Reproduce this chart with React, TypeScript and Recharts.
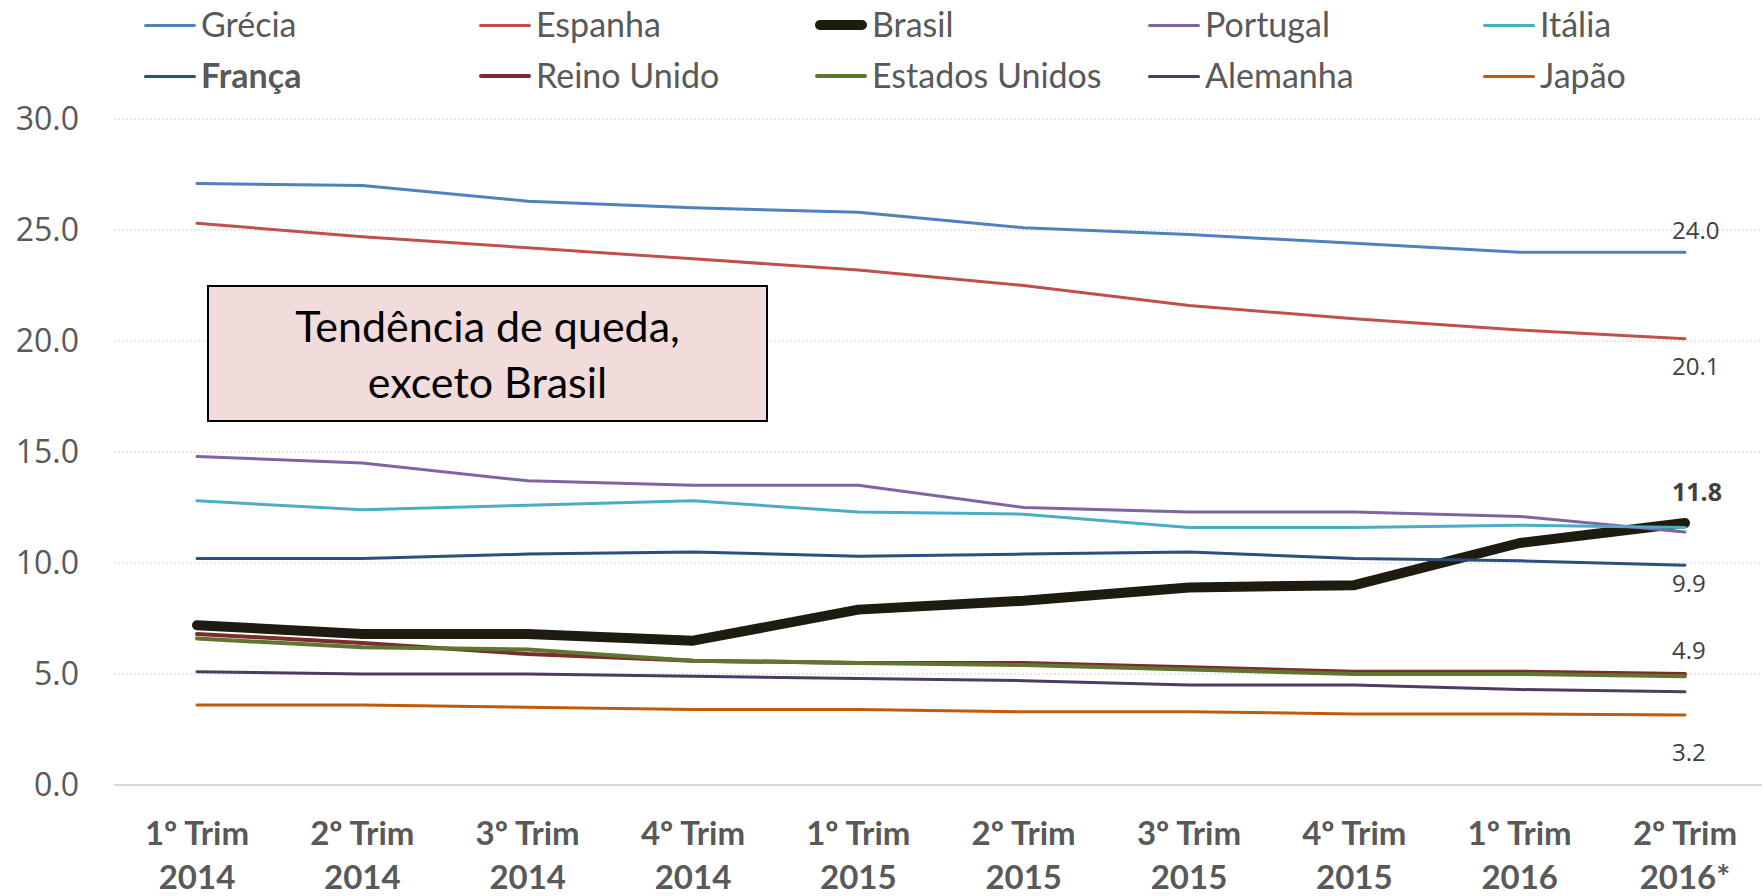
import React from 'react';
import { LineChart, Line, XAxis, YAxis, CartesianGrid, Legend, LabelList } from 'recharts';

const quarters = ['1º Trim', '2º Trim', '3º Trim', '4º Trim', '1º Trim', '2º Trim', '3º Trim', '4º Trim', '1º Trim', '2º Trim'];
const years = ['2014', '2014', '2014', '2014', '2015', '2015', '2015', '2015', '2016', '2016*'];

const grecia = [27.1, 27.0, 26.3, 26.0, 25.8, 25.1, 24.8, 24.4, 24.0, 24.0];
const espanha = [25.3, 24.7, 24.2, 23.7, 23.2, 22.5, 21.6, 21.0, 20.5, 20.1];
const brasil = [7.2, 6.8, 6.8, 6.5, 7.9, 8.3, 8.9, 9.0, 10.9, 11.8];
const portugal = [14.8, 14.5, 13.7, 13.5, 13.5, 12.5, 12.3, 12.3, 12.1, 11.4];
const italia = [12.8, 12.4, 12.6, 12.8, 12.3, 12.2, 11.6, 11.6, 11.7, 11.6];
const franca = [10.2, 10.2, 10.4, 10.5, 10.3, 10.4, 10.5, 10.2, 10.1, 9.9];
const reinoUnido = [6.8, 6.4, 5.9, 5.6, 5.5, 5.5, 5.3, 5.1, 5.1, 5.0];
const estadosUnidos = [6.6, 6.2, 6.1, 5.6, 5.5, 5.4, 5.2, 5.0, 5.0, 4.9];
const alemanha = [5.1, 5.0, 5.0, 4.9, 4.8, 4.7, 4.5, 4.5, 4.3, 4.2];
const japao = [3.6, 3.6, 3.5, 3.4, 3.4, 3.3, 3.3, 3.2, 3.2, 3.15];

const yTicks = [0, 5, 10, 15, 20, 25, 30];

const endLabels: Record<string, string> = {
  grecia: '24.0',
  espanha: '20.1',
  brasil: '11.8',
  franca: '9.9',
  estadosUnidos: '4.9',
  japao: '3.2',
};

type S = { key: string; name: string; values: number[]; color: string; width: number; bold?: boolean; labelDy?: number };

const series: S[] = [
  { key: 'grecia', name: 'Grécia', values: grecia, color: '#4f81bd', width: 3, labelDy: -22 },
  { key: 'espanha', name: 'Espanha', values: espanha, color: '#c0504d', width: 3, labelDy: 28 },
  { key: 'brasil', name: 'Brasil', values: brasil, color: '#1e1c11', width: 10, labelDy: -31 },
  { key: 'portugal', name: 'Portugal', values: portugal, color: '#8064a2', width: 3 },
  { key: 'italia', name: 'Itália', values: italia, color: '#4bacc6', width: 3 },
  { key: 'franca', name: 'França', values: franca, color: '#2c4f7c', width: 3, bold: true, labelDy: 18 },
  { key: 'reinoUnido', name: 'Reino Unido', values: reinoUnido, color: '#7b2c2b', width: 4 },
  { key: 'estadosUnidos', name: 'Estados Unidos', values: estadosUnidos, color: '#5f7530', width: 4, labelDy: -26 },
  { key: 'alemanha', name: 'Alemanha', values: alemanha, color: '#4d3b62', width: 3 },
  { key: 'japao', name: 'Japão', values: japao, color: '#bf5b0c', width: 3, labelDy: 37 },
];

const data = quarters.map((q, i) => {
  const row: Record<string, string | number> = { periodo: `${q}|${years[i]}` };
  series.forEach((s) => {
    row[s.key] = s.values[i];
  });
  return row;
});

const legendCols = [144, 479, 815, 1148, 1483];
const legendRows = [25, 76];

const LegendContent = () => (
  <div style={{ position: 'relative', width: 1762, height: 100 }}>
    {series.map((s, i) => {
      const col = i % 5;
      const row = Math.floor(i / 5);
      const x = legendCols[col];
      const y = legendRows[row];
      const lw = s.key === 'brasil' ? 10 : s.width;
      return (
        <div key={s.key}>
          <div
            style={{
              position: 'absolute',
              left: x,
              top: y - lw / 2,
              width: 52,
              height: lw,
              background: s.color,
              borderRadius: lw / 2,
            }}
          />
          <div
            style={{
              position: 'absolute',
              left: x + 57,
              top: y - 22,
              height: 42,
              lineHeight: '42px',
              fontFamily: 'Lato, sans-serif',
              fontSize: 34,
              fontWeight: s.bold ? 700 : 400,
              color: '#595959',
              whiteSpace: 'nowrap',
            }}
          >
            {s.name}
          </div>
        </div>
      );
    })}
  </div>
);

const XTick = (props: any) => {
  const { x, y, payload } = props;
  const [q, yr] = String(payload.value).split('|');
  const style = { fontFamily: 'Lato, sans-serif', fontSize: 33, fontWeight: 700, fill: '#595959' } as const;
  return (
    <g>
      <text x={x} y={y + 48} dy="0.36em" textAnchor="middle" {...style}>
        {q}
      </text>
      <text x={x} y={y + 92} dy="0.36em" textAnchor="middle" {...style}>
        {yr}
      </text>
    </g>
  );
};

const makeEndLabel = (s: S) => (props: any) => {
  const { x, y, index } = props;
  if (index !== quarters.length - 1) return null;
  const text = endLabels[s.key];
  if (!text) return null;
  const isBr = s.key === 'brasil';
  return (
    <text
      x={x - 13}
      y={y + (s.labelDy || 0)}
      dy="0.36em"
      textAnchor="start"
      fontFamily="'Open Sans', sans-serif"
      fontSize={isBr ? 25 : 24}
      fontWeight={isBr ? 700 : 400}
      fill="#404040"
    >
      {text}
    </text>
  );
};

export default function App() {
  return (
    <div style={{ position: 'absolute', left: 0, top: 0, width: 1762, height: 896, background: '#fff' }}>
      <LineChart width={1762} height={896} data={data} margin={{ top: 119, right: 0, bottom: 0, left: 0 }}>
        <CartesianGrid horizontal vertical={false} stroke="#cfcfcf" strokeDasharray="2 2" />
        <XAxis
          dataKey="periodo"
          height={111}
          interval={0}
          padding={{ left: 83, right: 77 }}
          tickLine={false}
          tickSize={0}
          tickMargin={0}
          axisLine={{ stroke: '#d9d9d9', strokeWidth: 2 }}
          tick={<XTick />}
        />
        <YAxis
          domain={[0, 30]}
          ticks={yTicks}
          width={114}
          axisLine={false}
          tickLine={false}
          tickSize={0}
          tickMargin={35}
          tickFormatter={(v: number) => v.toFixed(1)}
          tick={{ fill: '#595959', fontSize: 32, fontFamily: "'Open Sans', sans-serif" }}
        />
        <Legend
          layout="vertical"
          align="center"
          verticalAlign="middle"
          content={<LegendContent />}
          wrapperStyle={{ top: 0, left: 0, width: 1762, height: 100 }}
        />
        {series.map((s) => (
          <Line
            key={s.key}
            type="linear"
            dataKey={s.key}
            name={s.name}
            stroke={s.color}
            strokeWidth={s.width}
            strokeLinecap="round"
            strokeLinejoin="round"
            dot={false}
            activeDot={false}
            isAnimationActive={false}
          >
            {endLabels[s.key] ? <LabelList dataKey={s.key} content={makeEndLabel(s)} /> : null}
          </Line>
        ))}
      </LineChart>
      <div
        style={{
          position: 'absolute',
          left: 207,
          top: 285,
          width: 561,
          height: 137,
          boxSizing: 'border-box',
          background: '#f2dcdb',
          border: '2px solid #000',
          display: 'flex',
          flexDirection: 'column',
          alignItems: 'center',
          justifyContent: 'center',
          fontFamily: 'Lato, sans-serif',
          fontSize: 43,
          lineHeight: '56px',
          color: '#000',
          textAlign: 'center',
        }}
      >
        <div>Tendência de queda,</div>
        <div>exceto Brasil</div>
      </div>
    </div>
  );
}
